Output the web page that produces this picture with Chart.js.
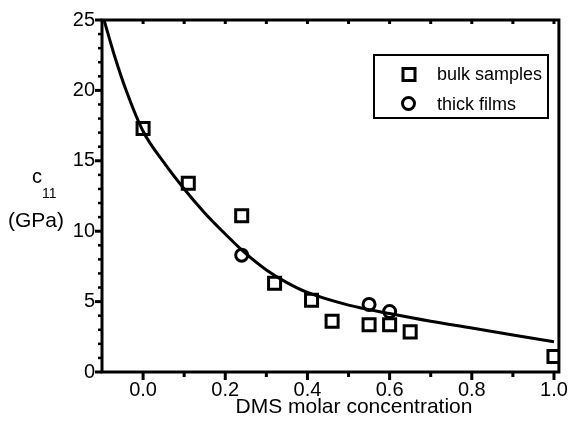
<!DOCTYPE html>
<html>
<head>
<meta charset="utf-8">
<title>c11 vs DMS molar concentration</title>
<script src="https://cdn.jsdelivr.net/npm/chart.js@4.4.0/dist/chart.umd.min.js"></script>
<style>
  html, body { margin: 0; padding: 0; background: #fff; }
</style>
</head>
<body>
<canvas id="c11Chart" width="574" height="434"></canvas>
<script>
// bulk samples (squares)
var bulkX = [0.0, 0.11, 0.24, 0.32, 0.41, 0.46, 0.55, 0.60, 0.65, 1.0];
var bulkY = [17.3, 13.4, 11.1, 6.3, 5.1, 3.6, 3.35, 3.35, 2.85, 1.1];

// thick films (circles)
var filmX = [0.24, 0.55, 0.60];
var filmY = [8.3, 4.8, 4.3];

// fitted curve
var fitX = [-0.095, -0.07, -0.04, 0.0, 0.05, 0.1, 0.15, 0.2, 0.25, 0.3, 0.35, 0.4, 0.5, 0.6, 0.7, 0.8, 0.9, 1.0];
var fitY = [25.0, 22.5, 19.9, 17.1, 14.9, 13.0, 11.3, 9.8, 8.4, 7.25, 6.35, 5.65, 4.75, 4.15, 3.6, 3.12, 2.63, 2.15];

// axis ticks
var xMajor = [0.0, 0.2, 0.4, 0.6, 0.8, 1.0];
var xMinor = [0.1, 0.3, 0.5, 0.7, 0.9];
var yMajor = [0, 5, 10, 15, 20, 25];
var yMinor = [1, 2, 3, 4, 6, 7, 8, 9, 11, 12, 13, 14, 16, 17, 18, 19, 21, 22, 23, 24];

var FONT = '"Liberation Sans", Arial, Helvetica, sans-serif';

function pts(xs, ys) {
	return xs.map(function (x, i) { return { x: x, y: ys[i] }; });
}

// box frame, tick marks, axis titles and the boxed legend
var framePlugin = {
	id: 'frame',
	afterDraw: function (chart) {
		var ctx = chart.ctx, a = chart.chartArea;
		var xs = chart.scales.x, ys = chart.scales.y;
		ctx.save();
		ctx.strokeStyle = '#000';
		ctx.lineCap = 'butt';

		// left axis: ticks outward
		yMajor.concat(yMinor).forEach(function (v) {
			var major = yMajor.indexOf(v) >= 0;
			var py = ys.getPixelForValue(v);
			ctx.lineWidth = major ? 3 : 2.5;
			ctx.beginPath();
			ctx.moveTo(a.left, py);
			ctx.lineTo(a.left - (major ? 7 : 4), py);
			ctx.stroke();
		});

		// bottom axis outward, top axis inward
		xMajor.concat(xMinor).forEach(function (v) {
			var major = xMajor.indexOf(v) >= 0;
			var px = xs.getPixelForValue(v);
			ctx.lineWidth = 3;
			ctx.beginPath();
			ctx.moveTo(px, a.bottom);
			ctx.lineTo(px, a.bottom + (major ? 8 : 5));
			ctx.moveTo(px, a.top);
			ctx.lineTo(px, a.top + 4);
			ctx.stroke();
		});

		ctx.lineWidth = 3;
		ctx.strokeRect(a.left, a.top, a.right - a.left, a.bottom - a.top);

		// axis titles
		ctx.fillStyle = '#000';
		ctx.textBaseline = 'alphabetic';
		ctx.textAlign = 'left';
		ctx.font = '20px ' + FONT;
		ctx.fillText('c', 32, 183);
		ctx.font = '14px ' + FONT;
		ctx.fillText('11', 42, 198);
		ctx.font = '21px ' + FONT;
		ctx.fillText('(GPa)', 8, 227);
		ctx.textAlign = 'center';
		ctx.fillText('DMS molar concentration', 354, 413);

		// legend
		var lx = 374, ly = 55, lw = 174, lh = 63;
		ctx.lineWidth = 2;
		ctx.strokeRect(lx, ly, lw, lh);
		var rows = [
			{ ds: chart.data.datasets[0], x: 409, y: 74.5, base: 80 },
			{ ds: chart.data.datasets[1], x: 408.5, y: 103.5, base: 110 }
		];
		ctx.font = '18px ' + FONT;
		ctx.textAlign = 'left';
		rows.forEach(function (r) {
			ctx.fillStyle = 'rgba(0,0,0,0)';
			ctx.strokeStyle = '#000';
			ctx.lineWidth = r.ds.borderWidth;
			Chart.helpers.drawPoint(ctx, {
				pointStyle: r.ds.pointStyle,
				radius: r.ds.pointRadius,
				borderWidth: r.ds.borderWidth,
				rotation: 0
			}, r.x, r.y);
			ctx.fillStyle = '#000';
			ctx.fillText(r.ds.label, 437, r.base);
		});
		ctx.restore();
	}
};

var ctx = document.getElementById('c11Chart').getContext('2d');
var chart = new Chart(ctx, {
	type: 'scatter',
	data: {
		datasets: [{
			label: 'bulk samples',
			data: pts(bulkX, bulkY),
			pointStyle: 'rect',
			pointRadius: 8.5,
			borderWidth: 3,
			borderColor: '#000',
			backgroundColor: 'rgba(0,0,0,0)'
		}, {
			label: 'thick films',
			data: pts(filmX, filmY),
			pointStyle: 'circle',
			pointRadius: 6,
			borderWidth: 3,
			borderColor: '#000',
			backgroundColor: 'rgba(0,0,0,0)'
		}, {
			label: 'fit',
			type: 'line',
			data: pts(fitX, fitY),
			showLine: true,
			pointRadius: 0,
			borderWidth: 3,
			borderColor: '#000',
			fill: false,
			cubicInterpolationMode: 'monotone'
		}]
	},
	options: {
		responsive: false,
		animation: false,
		layout: { padding: { top: 20, right: 11, left: 0, bottom: 0 } },
		plugins: {
			legend: { display: false },
			tooltip: { enabled: false }
		},
		scales: {
			x: {
				type: 'linear',
				min: -0.1,
				max: 1.012,
				grid: { display: false, drawTicks: false },
				border: { display: false },
				afterBuildTicks: function (scale) {
					scale.ticks = xMajor.map(function (v) { return { value: v }; });
				},
				afterFit: function (scale) { scale.height = 62; },
				ticks: {
					color: '#000',
					padding: 6,
					maxRotation: 0,
					font: { family: FONT, size: 20 },
					callback: function (v) { return Number(v).toFixed(1); }
				}
			},
			y: {
				min: 0,
				max: 25,
				grid: { display: false, drawTicks: false },
				border: { display: false },
				afterBuildTicks: function (scale) {
					scale.ticks = yMajor.map(function (v) { return { value: v }; });
				},
				afterFit: function (scale) { scale.width = 102; },
				ticks: {
					color: '#000',
					padding: 7,
					font: { family: FONT, size: 20 },
					callback: function (v) { return String(v); }
				}
			}
		}
	},
	plugins: [framePlugin]
});
</script>
</body>
</html>
